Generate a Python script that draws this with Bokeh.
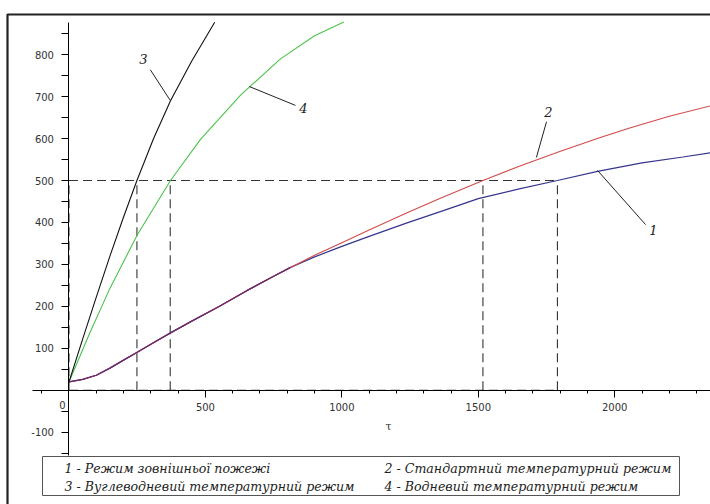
from bokeh.plotting import figure
from bokeh.models import Range1d, FixedTicker
from bokeh.core.properties import value
from bokeh.embed import file_html
from bokeh.resources import INLINE

# time axis (tau) and temperature curves
t_12 = [0, 50, 100, 150, 200, 250, 300, 372, 450, 550, 650, 750, 812]
y_12 = [20, 26, 36, 53, 72, 91, 110, 137, 165, 200, 237, 272, 293]

t_1 = [900, 1000, 1100, 1239, 1361, 1500, 1650, 1790, 1937, 2100, 2250, 2351]
y_1 = [318, 343, 367, 399, 426, 457, 480, 500, 522, 542, 556, 566]

t_2 = [900, 1000, 1100, 1239, 1361, 1517, 1650, 1801, 1950, 2058, 2200, 2351]
y_2 = [322, 352, 382, 423, 458, 500, 534, 570, 603, 626, 653, 678]

t_3 = [0, 50, 100, 150, 200, 249, 310, 372, 450, 534]
y_3 = [20, 122, 222, 320, 413, 500, 600, 690, 785, 877]

t_4 = [0, 75, 150, 250, 372, 482, 628, 775, 900, 1007]
y_4 = [20, 135, 243, 370, 500, 598, 703, 790, 845, 878]

# times at which each curve reaches 500 degrees
level = 500
t_level = [249, 371, 1517, 1790]

x_ticks = [500, 1000, 1500, 2000]
x_minor = [-100] + [v for v in range(100, 2400, 100) if v % 500 != 0]
y_ticks = [-100, 100, 200, 300, 400, 500, 600, 700, 800]
y_minor = [-150, -50, 50, 150, 250, 350, 450, 550, 650, 750, 850]

legend_labels = [
    "1 - Режим зовнішньої пожежі",
    "2 - Стандартний температурний режим",
    "3 - Вуглеводневий температурний режим",
    "4 - Водневий температурний режим",
]

W, H = 710, 504
X0, Y0 = -251.0, -272.0
X1, Y1 = 2351.0, 929.0


def px(x):
    return X0 + (X1 - X0) * x / W


def py(y):
    return Y1 - (Y1 - Y0) * y / H


p = figure(width=W, height=H, output_backend="svg", toolbar_location=None,
           x_range=Range1d(X0, X1), y_range=Range1d(Y0, Y1),
           min_border=0, min_border_left=0, min_border_right=0,
           min_border_top=0, min_border_bottom=0)
p.outline_line_color = None
p.grid.visible = False
p.background_fill_color = "white"
p.border_fill_color = "white"

# axes crossing at the origin
for ax in p.xaxis:
    ax.fixed_location = 0
    ax.bounds = (-134, X1)
    ax.ticker = FixedTicker(ticks=x_ticks, minor_ticks=x_minor)
    ax.major_tick_in = 0
    ax.major_tick_out = 7
    ax.minor_tick_in = 0
    ax.minor_tick_out = 3
    ax.major_label_standoff = 6
    ax.major_label_overrides = {v: str(v) for v in x_ticks}
for ax in p.yaxis:
    ax.fixed_location = 0
    ax.bounds = (-155, 877)
    ax.ticker = FixedTicker(ticks=y_ticks, minor_ticks=y_minor)
    ax.major_tick_in = 0
    ax.major_tick_out = 7
    ax.minor_tick_in = 0
    ax.minor_tick_out = 7
    ax.major_label_standoff = 8
    ax.major_label_overrides = {v: str(v) for v in y_ticks}
for ax in list(p.xaxis) + list(p.yaxis):
    ax.axis_line_color = "black"
    ax.major_tick_line_color = "black"
    ax.minor_tick_line_color = "black"
    ax.major_label_text_font = "DejaVu Sans"
    ax.major_label_text_font_size = "10px"
    ax.major_label_text_color = "#333333"

# border of the sheet (top and left edges)
p.line([px(7), px(7), px(W + 5)], [py(H + 5), py(14), py(14)],
       line_color="#222222", line_width=2.2)

# dashed guide lines at the 500 degree level
dash = dict(line_color="#333333", line_width=1.1, line_dash="9 5")
p.segment(x0=t_level, y0=[0] * 4, x1=t_level, y1=[level] * 4, **dash)
p.segment(x0=[0, 0, 0], y0=[level, 0, 0], x1=[max(t_level), max(t_level), 0],
          y1=[level, 0, level], **dash)

# curves
p.line(t_12 + t_1, y_12 + y_1, line_color="#35358f", line_width=1.2)
p.line(t_12 + t_2, y_12 + y_2, line_color="#d24a4a", line_width=1.1)
p.line(t_12, y_12, line_color="#6a2a6a", line_width=1.2)
p.line(t_4, y_4, line_color="#4cc24c", line_width=1.1)
p.line(t_3, y_3, line_color="#111111", line_width=1.1)

# callouts
lead_x0 = [298, 661, 1750, 1937]
lead_y0 = [764, 724, 640, 524]
lead_x1 = [372, 830, 1713, 2113]
lead_y1 = [690, 679, 555, 395]
p.segment(x0=lead_x0, y0=lead_y0, x1=lead_x1, y1=lead_y1,
          line_color="#222222", line_width=1)
p.text(x=[273, 859, 1757, 2142], y=[790, 672, 664, 381], text=["3", "4", "2", "1"],
       text_font=value("DejaVu Serif"), text_font_style="italic",
       text_font_size="13px", text_color="#222222",
       text_align="center", text_baseline="middle")

# zero label and axis title
p.text(x=[px(62)], y=[py(404)], text=["0"], text_font=value("DejaVu Sans"),
       text_font_size="10px", text_color="#333333",
       text_align="center", text_baseline="middle")
p.text(x=[px(388)], y=[py(426)], text=["τ"], text_font=value("DejaVu Serif"),
       text_font_size="11px", text_color="#333333",
       text_align="center", text_baseline="middle")

# legend box
p.quad(left=[px(42)], right=[px(679)], top=[py(456)], bottom=[py(495)],
       fill_color="white", line_color="#555555", line_width=1)
p.text(x=[px(64), px(384), px(64), px(384)],
       y=[py(468), py(468), py(486), py(486)],
       text=legend_labels, text_font=value("DejaVu Serif"),
       text_font_style="italic", text_font_size="12.6px", text_color="#222222",
       text_align="left", text_baseline="middle")

open("out.html", "w").write(file_html(p, INLINE))
